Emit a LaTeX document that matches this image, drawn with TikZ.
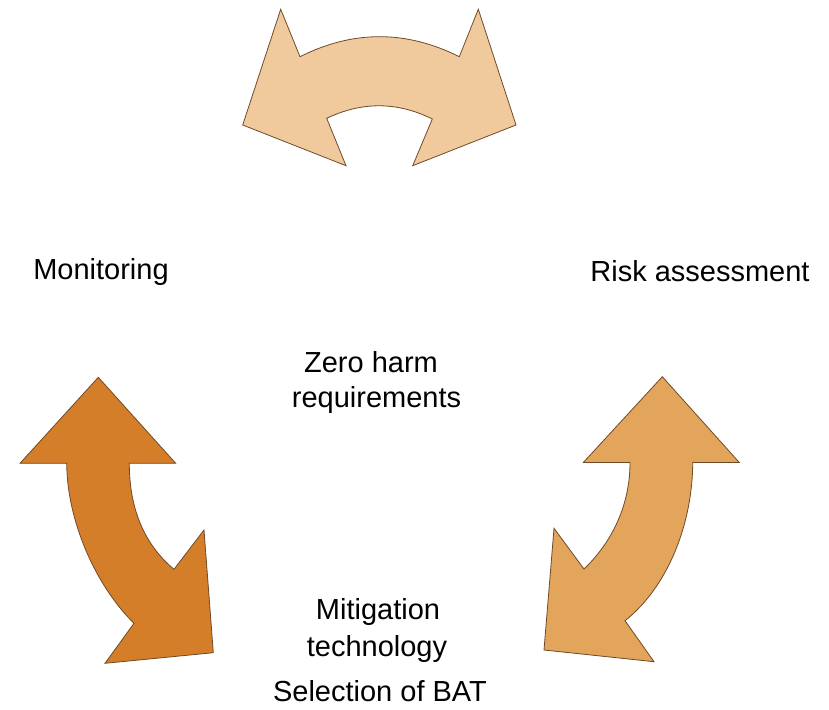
\documentclass[tikz,border=0pt]{standalone}
\usepackage{fontspec}
\setmainfont{Liberation Sans}
\definecolor{peachlight}{HTML}{F0C99C}
\definecolor{orangedark}{HTML}{D57E2A}
\definecolor{orangemid}{HTML}{E3A45B}
\definecolor{edgebrown}{HTML}{6E4A28}
\begin{document}
\begin{tikzpicture}[x=1pt,y=-1pt,
  bigarrow/.style={draw=edgebrown,line width=0.8pt,line join=miter},
  label/.style={font=\fontsize{29}{34}\selectfont,anchor=base,inner sep=0pt,text=black}]
\useasboundingbox (0,0) rectangle (829,709);

% curved double arrow at the top
\path[bigarrow,fill=peachlight]
  (280.7,9.3) -- (300,56.7)
  .. controls (353,30) and (406,30) .. (459.3,56.7)
  -- (478.3,9.3) -- (516,125) -- (412.7,165.7) -- (432.3,119)
  .. controls (397,101.5) and (362,101.5) .. (326.7,118.3)
  -- (346,165.7) -- (242.7,125) -- cycle;

% curved double arrow on the left
\path[bigarrow,fill=orangedark]
  (98.3,377.3) -- (175.7,463.3) -- (129.3,463.3)
  .. controls (129.3,510) and (145,545) .. (174,569.3)
  -- (204,530) -- (213.3,652.7) -- (105,663.3) -- (134,623.3)
  .. controls (95,585) and (67,520) .. (66.7,463.3)
  -- (20,463.3) -- cycle;

% curved double arrow on the right
\path[bigarrow,fill=orangemid]
  (662.3,376.7) -- (739.3,462.5) -- (692.7,462.5)
  .. controls (692.7,520) and (670,585) .. (625,620.7)
  -- (654,661.7) -- (544,650) -- (554,528.3) -- (584,569)
  .. controls (608,546) and (630,510) .. (630,462.5)
  -- (583.3,462.5) -- cycle;

% labels
\node[label] (mon) at (101,279) {Monitoring};
\node[label] (risk) at (700,281) {Risk assessment};
\node[label] (zero1) at (371,372) {Zero harm};
\node[label] (zero2) at (376.5,407) {requirements};
\node[label] (mit1) at (378,619.5) {Mitigation};
\node[label] (mit2) at (377,656) {technology};
\node[label] (bat) at (380,701) {Selection of BAT};
\end{tikzpicture}
\end{document}
